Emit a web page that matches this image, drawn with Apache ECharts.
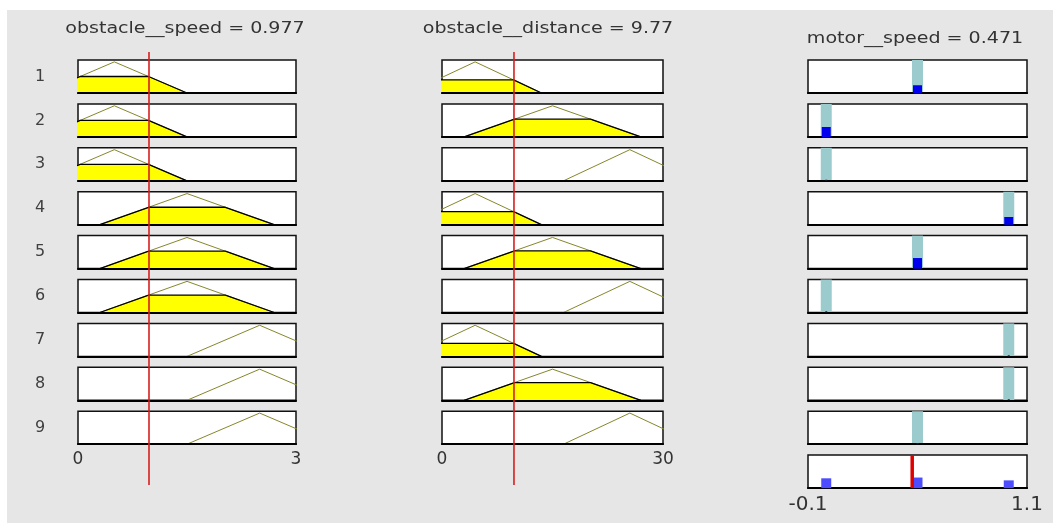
<!DOCTYPE html>
<html><head><meta charset="utf-8">
<script src="https://cdn.jsdelivr.net/npm/echarts@6/dist/echarts.min.js"></script>
<style>
html,body{margin:0;padding:0;background:#fff;width:1053px;height:523px;overflow:hidden}
#bg{position:absolute;left:7px;top:10px;width:1046px;height:513px;background:#e6e6e6}
#chart{position:absolute;left:0;top:0;width:1053px;height:523px}
</style></head>
<body><div id="bg"></div><div id="chart"></div>
<script>
// ---- data ----
const titles = ['obstacle__speed = 0.977', 'obstacle__distance = 9.77', 'motor__speed = 0.471'];
const inputValues = [0.977, 9.77];
const outputValue = 0.471;
const ruleLabels = ['1', '2', '3', '4', '5', '6', '7', '8', '9'];
const speedRange = [0, 3];
const distanceRange = [0, 30];
const motorRange = [-0.1, 1.1];
const speedTicks = [0, 3];
const distanceTicks = [0, 30];
const motorTicks = [-0.1, 1.1];
const speedMF = { low: [-0.5, 0.5, 1.5], medium: [0.3, 1.5, 2.7], high: [1.5, 2.5, 3.5] };
const distanceMF = { low: [-4.5, 4.5, 13.5], medium: [3, 15, 27], high: [16.5, 25.5, 34.5] };
const speedDegree = { low: 0.53, medium: 0.56, high: 0 };
const distanceDegree = { low: 0.42, medium: 0.57, high: 0 };
const ruleSpeed = ['low', 'low', 'low', 'medium', 'medium', 'medium', 'high', 'high', 'high'];
const ruleDistance = ['low', 'medium', 'high', 'low', 'medium', 'high', 'low', 'medium', 'high'];
const ruleOutput = [0.5, 0, 0, 1, 0.5, 0, 1, 1, 0.5];
const ruleStrength = [0.41, 0.52, 0, 0.41, 0.56, 0, 0, 0, 0];
const aggregateOutputs = [0, 0.5, 1];
const aggregateStrength = [0.52, 0.56, 0.41];

// ---- layout ----
const FONT = 'DejaVu Sans';
const rowTop = i => 60 + i * 43.9;
const BOX_H = 33;
const cols = [{ left: 78, width: 218 }, { left: 442, width: 221 }, { left: 808, width: 219 }];
const IN_YMAX = 1.06, OUT_YMAX = 1.75;

const grids = [], xAxes = [], yAxes = [], series = [];
function addGrid(g) { grids.push(Object.assign({ outerBoundsMode: 'none', containLabel: false }, g)); return grids.length - 1; }
function base(idx) { return { xAxisIndex: idx, yAxisIndex: idx, symbol: 'none', silent: true, animation: false, type: 'line' }; }

const inputDefs = [
  { mf: speedMF, deg: speedDegree, rule: ruleSpeed, range: speedRange, ticks: speedTicks },
  { mf: distanceMF, deg: distanceDegree, rule: ruleDistance, range: distanceRange, ticks: distanceTicks }
];

for (let c = 0; c < 2; c++) {
  const d = inputDefs[c];
  for (let i = 0; i < 9; i++) {
    const g = addGrid({ left: cols[c].left, width: cols[c].width, top: rowTop(i), height: BOX_H, show: true, backgroundColor: '#fff', borderColor: '#111', borderWidth: 1.5 });
    xAxes.push({
      gridIndex: g, type: 'value', min: d.range[0], max: d.range[1], z: 3,
      axisLine: { show: true, onZero: false, lineStyle: { color: '#000', width: 2.2 } },
      axisTick: { show: false }, splitLine: { show: false },
      axisLabel: i === 8 ? { show: true, customValues: d.ticks, showMinLabel: true, showMaxLabel: true, fontFamily: FONT, fontSize: 17, color: '#333', margin: 7 } : { show: false }
    });
    yAxes.push({
      gridIndex: g, type: 'value', min: 0, max: IN_YMAX, show: c === 0,
      name: c === 0 ? ruleLabels[i] : '', nameLocation: 'middle', nameRotate: 0, nameGap: 38,
      nameTextStyle: { fontFamily: FONT, fontSize: 16, color: '#404040', align: 'center', verticalAlign: 'middle' },
      axisLine: { show: false }, axisTick: { show: false }, axisLabel: { show: false }, splitLine: { show: false }
    });
    const key = d.rule[i];
    const [a, b, cc] = d.mf[key];
    const deg = d.deg[key];
    series.push(Object.assign(base(g), { data: [[a, 0], [b, 1], [cc, 0]], lineStyle: { color: '#86862c', width: 1 }, z: 2 }));
    if (deg > 0) {
      series.push(Object.assign(base(g), {
        data: [[a, 0], [a + deg * (b - a), deg], [cc - deg * (cc - b), deg], [cc, 0]],
        lineStyle: { color: '#000', width: 1.3 }, areaStyle: { color: '#ffff00', opacity: 1 }, z: 2
      }));
    }
  }
}

// output column
for (let i = 0; i < 10; i++) {
  const g = addGrid({ left: cols[2].left, width: cols[2].width, top: rowTop(i), height: BOX_H, show: true, backgroundColor: '#fff', borderColor: '#111', borderWidth: 1.5 });
  xAxes.push({
    gridIndex: g, type: 'value', min: motorRange[0], max: motorRange[1], z: 3,
    axisLine: { show: true, onZero: false, lineStyle: { color: '#000', width: 2.2 } },
    axisTick: { show: false }, splitLine: { show: false },
    axisLabel: i === 9 ? { show: true, customValues: motorTicks, showMinLabel: true, showMaxLabel: true, fontFamily: FONT, fontSize: 20, color: '#333', margin: 7 } : { show: false }
  });
  yAxes.push({ gridIndex: g, type: 'value', min: 0, max: OUT_YMAX, show: false });
  if (i < 9) {
    const v = ruleOutput[i];
    series.push(Object.assign(base(g), { data: [[v, 0], [v, OUT_YMAX]], lineStyle: { color: '#9ccbce', width: 11, cap: 'butt' }, z: 2 }));
    if (ruleStrength[i] > 0) {
      series.push(Object.assign(base(g), { data: [[v, 0], [v, ruleStrength[i]]], lineStyle: { color: '#0000ee', width: 9, cap: 'butt' }, z: 3 }));
    } else {
      series.push(Object.assign(base(g), { data: [[v, 0], [v, 0.06]], lineStyle: { color: '#1a1a3a', width: 2, cap: 'butt' }, z: 3 }));
    }
  } else {
    aggregateOutputs.forEach((v, k) => {
      series.push(Object.assign(base(g), { data: [[v, 0], [v, aggregateStrength[k]]], lineStyle: { color: '#4d4dff', width: 10, cap: 'butt' }, z: 3 }));
    });
    series.push(Object.assign(base(g), { data: [[outputValue, 0], [outputValue, OUT_YMAX]], lineStyle: { color: '#e00000', width: 3.5, cap: 'butt' }, z: 4 }));
  }
}

// red input lines (overlay grids)
for (let c = 0; c < 2; c++) {
  const d = inputDefs[c];
  const g = addGrid({ left: cols[c].left, width: cols[c].width, top: 52, height: 433, show: false });
  xAxes.push({ gridIndex: g, type: 'value', min: d.range[0], max: d.range[1], show: false });
  yAxes.push({ gridIndex: g, type: 'value', min: 0, max: 1, show: false });
  series.push(Object.assign(base(g), { data: [[inputValues[c], 0], [inputValues[c], 1]], lineStyle: { color: '#d81e1e', width: 1.6 }, z: 6 }));
}

const titlePos = [[185, 29], [548, 29], [915, 39]];
const graphic = titles.map((t, k) => ({
  type: 'text', x: titlePos[k][0], y: titlePos[k][1], scaleX: 1.19, scaleY: 1, silent: true,
  style: { text: t, font: '16px "' + FONT + '"', fill: '#333', align: 'center', verticalAlign: 'middle' }
}));

const chart = echarts.init(document.getElementById('chart'));
chart.setOption({ animation: false, backgroundColor: 'transparent', grid: grids, xAxis: xAxes, yAxis: yAxes, series: series, graphic: graphic });
</script></body></html>
